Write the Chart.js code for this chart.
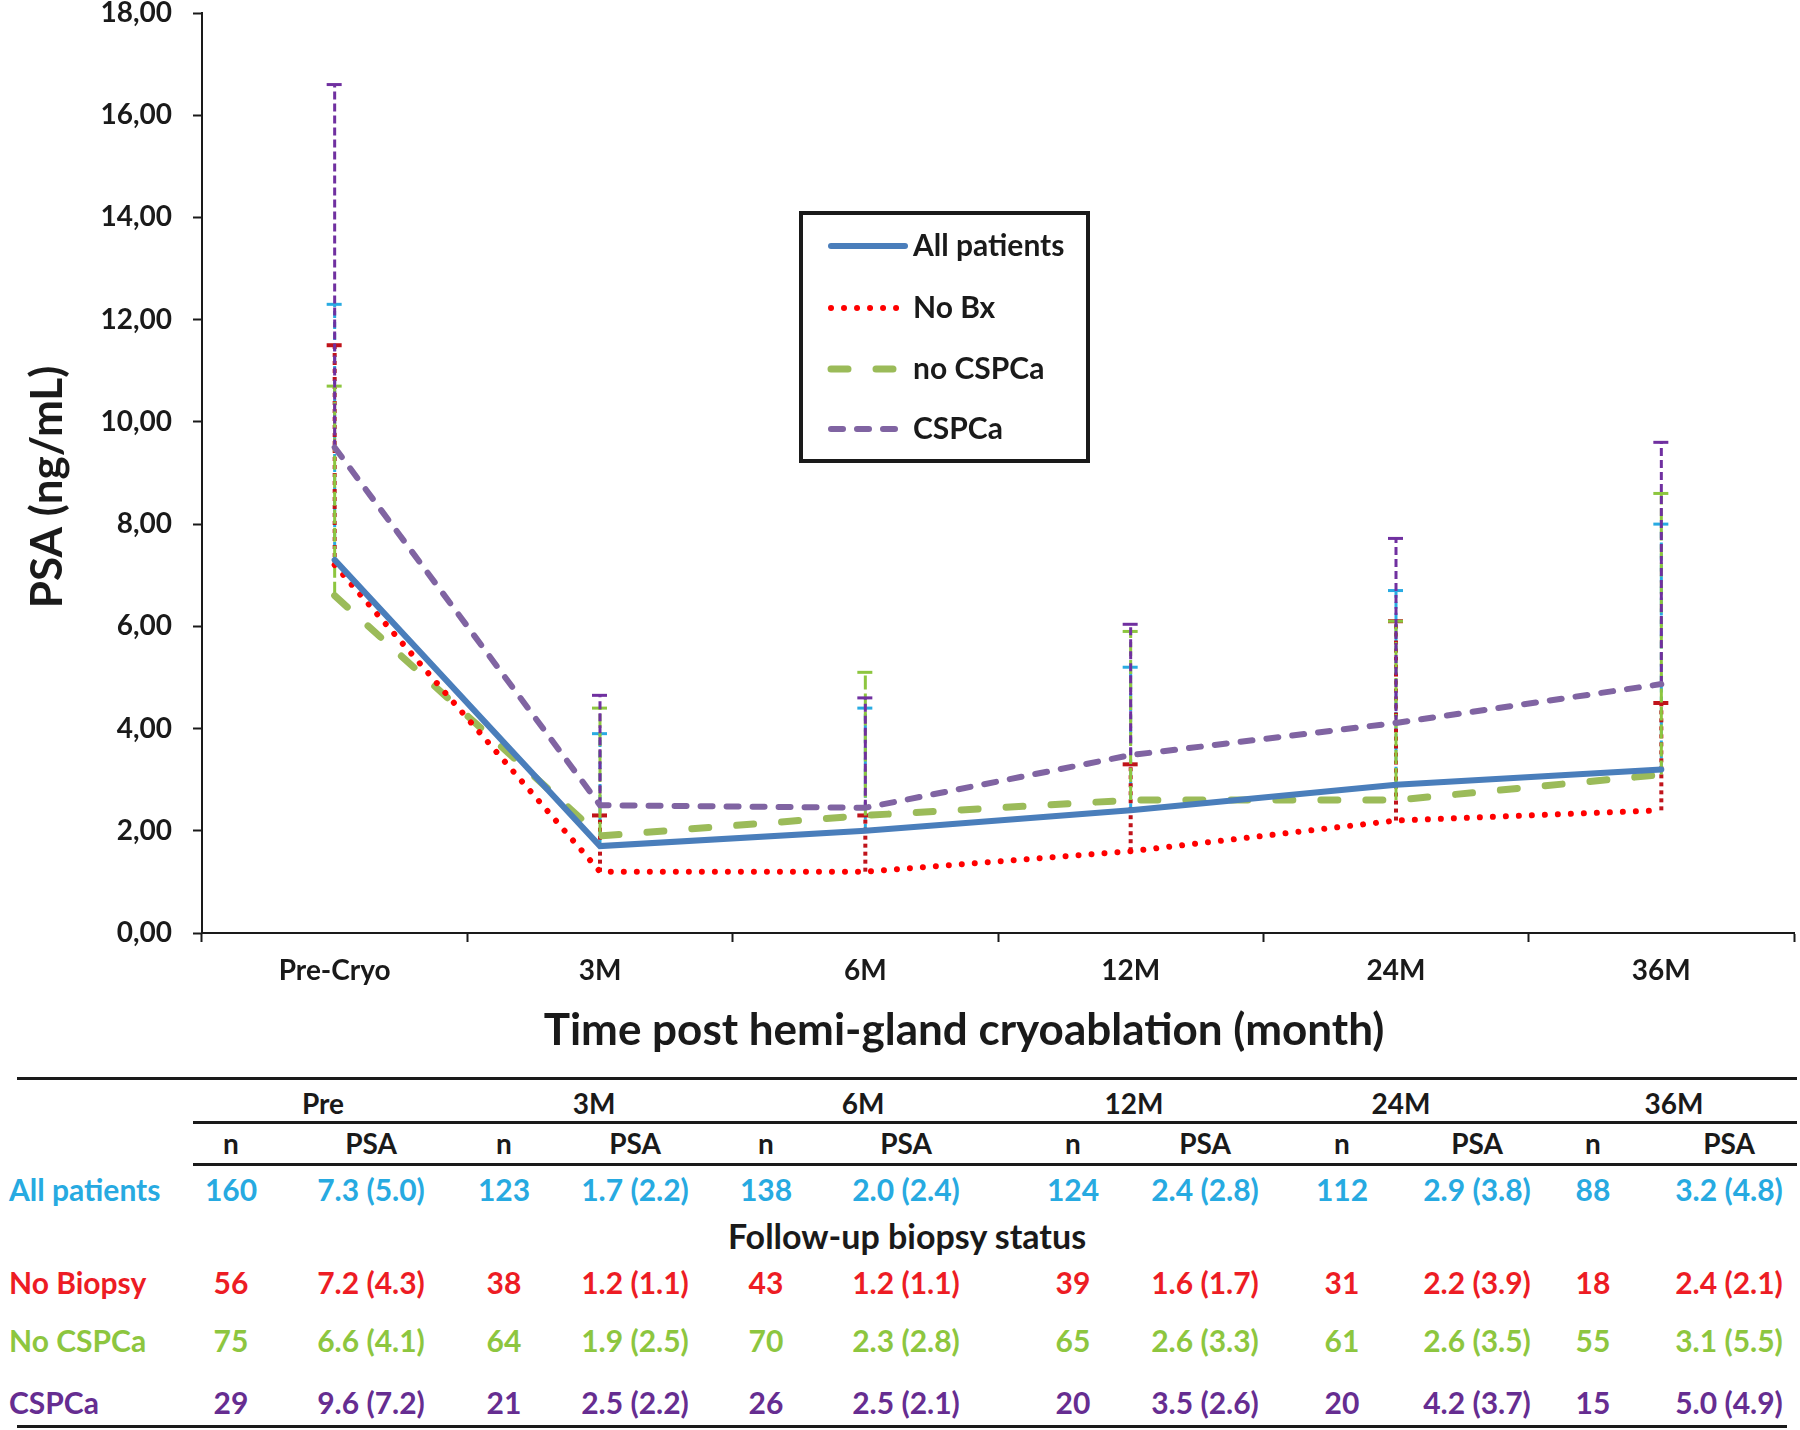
<!DOCTYPE html>
<html><head><meta charset="utf-8">
<script src="https://cdn.jsdelivr.net/npm/chart.js@4.4.0/dist/chart.umd.min.js"></script>
<style>
html,body{margin:0;padding:0;background:#fff;}
#wrap{position:relative;width:1800px;height:1430px;overflow:hidden;background:#fff;}
#cw{position:absolute;left:0;top:0;width:1800px;height:1080px;}
.t{position:absolute;font-family:Lato,'Open Sans',sans-serif;font-weight:700;font-size:30px;white-space:nowrap;transform:translate(-50%,-50%);line-height:1;color:#1a1a1a;}
.t.l{transform:translate(0,-50%);}
.t.h{font-size:28px;}
.t.f{font-size:34px;}
.hl{position:absolute;background:#1a1a1a;}
</style></head><body>
<div id="wrap"><div id="cw"><canvas id="cv"></canvas></div></div>
<script>
// ---------- chart data ----------
const categories = ['Pre-Cryo','3M','6M','12M','24M','36M'];
const seriesNames = ['All patients','No Bx','no CSPCa','CSPCa'];
const allPatients = [7.3, 1.7, 2.0, 2.4, 2.9, 3.2];
const noBx        = [7.2, 1.2, 1.2, 1.6, 2.2, 2.4];
const noCSPCa     = [6.6, 1.9, 2.3, 2.6, 2.6, 3.1];
const cspca       = [9.5, 2.5, 2.45, 3.48, 4.11, 4.87];
// upper ends of the error bars (mean + SD) as drawn
const allPatientsErrTop = [12.3, 3.9, 4.4, 5.2, 6.7, 8.0];
const noBxErrTop        = [11.5, 2.3, 2.3, 3.3, 6.1, 4.5];
const noCSPCaErrTop     = [10.7, 4.4, 5.1, 5.9, 6.1, 8.6];
const cspcaErrTop       = [16.6, 4.65, 4.6, 6.04, 7.72, 9.6];
const yTitle = 'PSA (ng/mL)';
const xTitle = 'Time post hemi-gland cryoablation (month)';

// ---------- table data ----------
const tableTimes = ['Pre','3M','6M','12M','24M','36M'];
const tableGroups = ['All patients','No Biopsy','No CSPCa','CSPCa'];
const allN   = [160, 123, 138, 124, 112, 88];
const allPSA = ['7.3 (5.0)','1.7 (2.2)','2.0 (2.4)','2.4 (2.8)','2.9 (3.8)','3.2 (4.8)'];
const noBiopsyN   = [56, 38, 43, 39, 31, 18];
const noBiopsyPSA = ['7.2 (4.3)','1.2 (1.1)','1.2 (1.1)','1.6 (1.7)','2.2 (3.9)','2.4 (2.1)'];
const noCSPCaN   = [75, 64, 70, 65, 61, 55];
const noCSPCaPSA = ['6.6 (4.1)','1.9 (2.5)','2.3 (2.8)','2.6 (3.3)','2.6 (3.5)','3.1 (5.5)'];
const cspcaN   = [29, 21, 26, 20, 20, 15];
const cspcaPSA = ['9.6 (7.2)','2.5 (2.2)','2.5 (2.1)','3.5 (2.6)','4.2 (3.7)','5.0 (4.9)'];

const FONT = "Lato, 'Open Sans', sans-serif";
const INK = '#1a1a1a';

const errStyles = [
  {color:'#29ABE2', width:3, dash:[7,4]},
  {color:'#C0141B', width:4, dash:[4,4]},
  {color:'#8DC63F', width:3, dash:[14,4]},
  {color:'#7030A0', width:3, dash:[8,4]}
];
const errTops = [allPatientsErrTop, noBxErrTop, noCSPCaErrTop, cspcaErrTop];

const errPlugin = {
  id:'errbars',
  beforeDatasetsDraw(chart){
    const {ctx, scales:{x,y}} = chart;
    chart.data.datasets.forEach((ds, di) => {
      const st = errStyles[di], tops = errTops[di];
      ctx.save();
      ctx.strokeStyle = st.color; ctx.lineWidth = st.width; ctx.lineCap = 'butt';
      ds.data.forEach((v, i) => {
        const px = x.getPixelForValue(i);
        const y0 = y.getPixelForValue(v), y1 = y.getPixelForValue(tops[i]);
        ctx.setLineDash(st.dash);
        ctx.beginPath(); ctx.moveTo(px, y0); ctx.lineTo(px, y1); ctx.stroke();
        ctx.setLineDash([]);
        ctx.beginPath(); ctx.moveTo(px-8, y1); ctx.lineTo(px+7, y1); ctx.stroke();
      });
      ctx.restore();
    });
  }
};

const titlePlugin = {
  id:'axistitles',
  afterDraw(chart){
    const ctx = chart.ctx;
    ctx.save();
    ctx.fillStyle = INK; ctx.textAlign = 'center'; ctx.textBaseline = 'middle';
    ctx.font = "bold 44px " + FONT;
    ctx.fillText(xTitle, 964, 1031);
    ctx.translate(48, 487); ctx.rotate(-Math.PI/2);
    ctx.fillText(yTitle, 0, 0);
    ctx.restore();
  }
};

const legendPlugin = {
  id:'boxlegend',
  afterDraw(chart){
    const ctx = chart.ctx;
    const bx = 801, by = 213, bw = 287, bh = 248;
    ctx.save();
    ctx.strokeStyle = INK; ctx.lineWidth = 4; ctx.setLineDash([]);
    ctx.strokeRect(bx, by, bw, bh);
    const rows = [246, 308, 369, 429];
    chart.data.datasets.forEach((ds, i) => {
      ctx.save();
      ctx.strokeStyle = ds.borderColor; ctx.lineWidth = ds.borderWidth;
      ctx.lineCap = ds.borderCapStyle || 'butt';
      ctx.setLineDash(ds.borderDash || []);
      ctx.beginPath(); ctx.moveTo(831, rows[i]); ctx.lineTo(905, rows[i]); ctx.stroke();
      ctx.restore();
      ctx.fillStyle = INK; ctx.font = "bold 30px " + FONT;
      ctx.textBaseline = 'middle'; ctx.textAlign = 'left';
      ctx.fillText(ds.label, 913, rows[i]);
    });
    ctx.restore();
  }
};

new Chart(document.getElementById('cv'), {
  type:'line',
  data:{
    labels: categories,
    datasets:[
      {label:seriesNames[0], data:allPatients, borderColor:'#4A7EBB', borderWidth:6, borderDash:[], borderCapStyle:'round', pointRadius:0, tension:0},
      {label:seriesNames[1], data:noBx, borderColor:'#FF0000', borderWidth:6, borderDash:[0.01,13], borderCapStyle:'round', pointRadius:0, tension:0},
      {label:seriesNames[2], data:noCSPCa, borderColor:'#9BBB59', borderWidth:7, borderDash:[17,28], borderCapStyle:'round', pointRadius:0, tension:0},
      {label:seriesNames[3], data:cspca, borderColor:'#8064A2', borderWidth:6, borderDash:[12,14], borderCapStyle:'round', pointRadius:0, tension:0}
    ]
  },
  options:{
    responsive:true, maintainAspectRatio:false, animation:false,
    layout:{padding:{left:0,right:6,top:0,bottom:0}},
    plugins:{legend:{display:false}, tooltip:{enabled:false}},
    scales:{
      x:{
        offset:true,
        grid:{offset:true, drawOnChartArea:false, drawTicks:true, tickLength:9, tickColor:INK, tickWidth:2},
        border:{color:INK, width:2},
        ticks:{font:{family:FONT, size:28, weight:'bold'}, color:INK, padding:12, maxRotation:0, autoSkip:false},
        afterFit(s){ s.height = 147; s.paddingLeft = 0; s.paddingRight = 0; }
      },
      y:{
        min:0, max:18,
        grid:{drawOnChartArea:false, drawTicks:true, tickLength:9, tickColor:INK, tickWidth:2},
        border:{color:INK, width:2},
        ticks:{stepSize:2, callback:v => v.toFixed(2).replace('.', ','), font:{family:FONT, size:28, weight:'bold', lineHeight:1}, color:INK, padding:21},
        afterFit(s){ s.width = 202; s.paddingTop = 13; s.paddingBottom = 0; }
      }
    }
  },
  plugins:[errPlugin, titlePlugin, legendPlugin]
});

// ---------- table ----------
const wrap = document.getElementById('wrap');
function txt(s, x, y, color, cls){
  const d = document.createElement('div');
  d.className = 't' + (cls ? ' ' + cls : '');
  d.textContent = s; d.style.left = x + 'px'; d.style.top = y + 'px';
  if (color) d.style.color = color;
  wrap.appendChild(d);
}
function hline(x, y, w, h){
  const d = document.createElement('div'); d.className = 'hl';
  d.style.left = x + 'px'; d.style.top = y + 'px'; d.style.width = w + 'px'; d.style.height = h + 'px';
  wrap.appendChild(d);
}
const headX = [323, 594, 863, 1134, 1401, 1674];
const nX    = [231, 504, 766, 1073, 1342, 1593];
const psaX  = [371, 635, 906, 1205, 1477, 1729];
hline(17, 1077, 1780, 3);
hline(193, 1121, 1604, 3);
hline(193, 1163, 1604, 3);
hline(17, 1425, 1770, 3);
tableTimes.forEach((t, i) => { txt(t, headX[i], 1103, null, 'h'); txt('n', nX[i], 1143, null, 'h'); txt('PSA', psaX[i], 1143, null, 'h'); });
const rowsDef = [
  {name:tableGroups[0], n:allN, psa:allPSA, color:'#27AAE1', y:1189},
  {name:tableGroups[1], n:noBiopsyN, psa:noBiopsyPSA, color:'#ED1C24', y:1282},
  {name:tableGroups[2], n:noCSPCaN, psa:noCSPCaPSA, color:'#8DC63F', y:1340},
  {name:tableGroups[3], n:cspcaN, psa:cspcaPSA, color:'#662D91', y:1402}
];
rowsDef.forEach(r => {
  txt(r.name, 9, r.y, r.color, 'l');
  r.n.forEach((v, i) => txt(String(v), nX[i], r.y, r.color));
  r.psa.forEach((v, i) => txt(v, psaX[i], r.y, r.color));
});
txt('Follow-up biopsy status', 907, 1236, null, 'f');
</script>
</body></html>
